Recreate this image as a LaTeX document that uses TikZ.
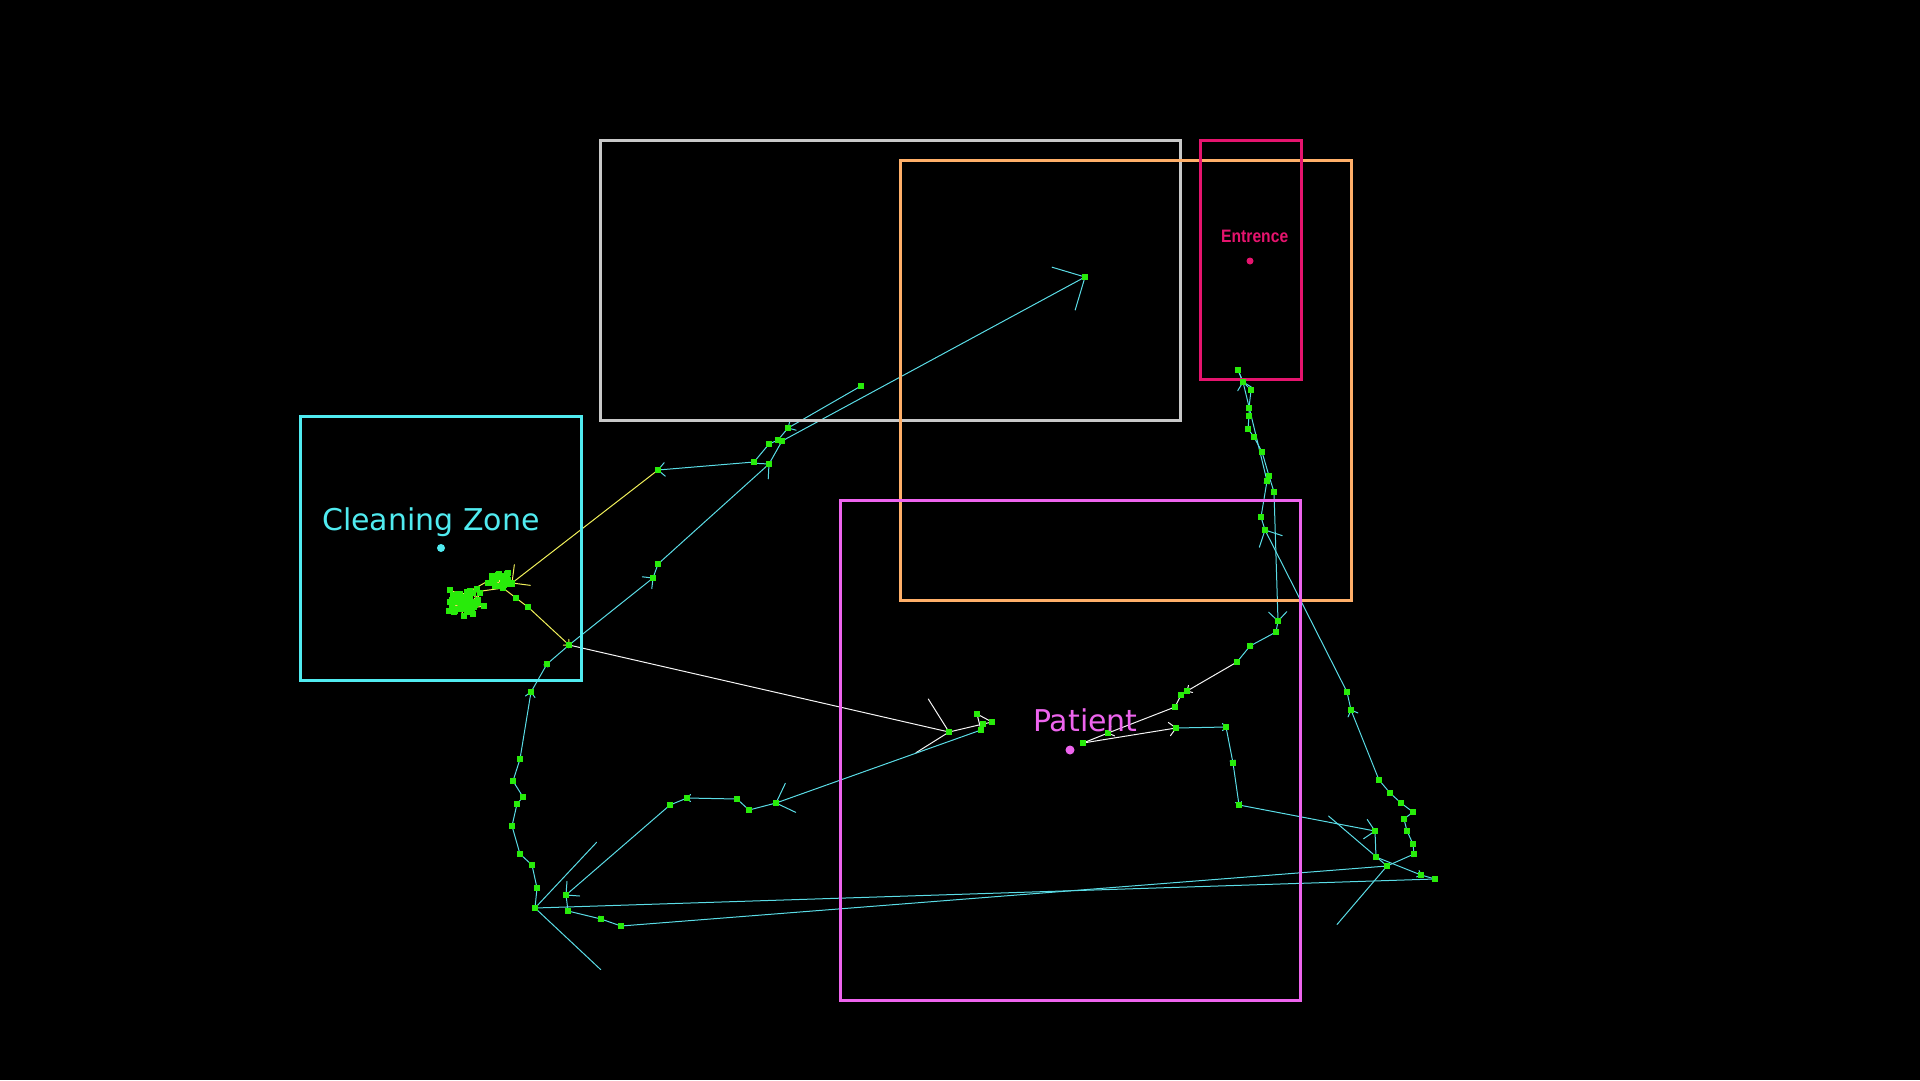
\documentclass[tikz,border=0pt]{standalone}
\usepackage{fontspec}
\newfontfamily\dvs{DejaVu Sans}
\newfontfamily\lsb{Liberation Sans}
\usetikzlibrary{calc}
\definecolor{czone}{RGB}{80,235,240}
\definecolor{cgray}{RGB}{200,200,200}
\definecolor{corange}{RGB}{255,175,105}
\definecolor{cent}{RGB}{230,20,110}
\definecolor{cpat}{RGB}{238,100,238}
\definecolor{tcyan}{RGB}{90,220,230}
\definecolor{tgreen}{RGB}{40,235,10}
\definecolor{tyel}{RGB}{240,240,90}
\definecolor{twhite}{RGB}{245,245,245}
\tikzset{
  zonebox/.style={line width=3pt},
  trk/.style={line width=1pt, line cap=round},
  mark sq/.style={fill=tgreen},
}
% OpenCV-like arrowed segment: tip length 0.1 of segment, barbs at 45 degrees
\newcommand{\aseg}[3]{\draw[trk,#1] (#2) -- (#3) ($(#3)!0.1!45:(#2)$) -- (#3) -- ($(#3)!0.1!-45:(#2)$);}
\newcommand{\trail}[2]{%
  \foreach \x/\y [remember=\x as \px (initially 0), remember=\y as \py (initially 0), count=\i] in #2 {%
    \ifnum\i>1 \aseg{#1}{\px,\py}{\x,\y}\fi
  }}
\newcommand{\squares}[1]{%
  \foreach \x/\y in #1 {\fill[mark sq] (\x-3,\y-3) rectangle (\x+3,\y+3);}}
% trajectory lists (pixel coordinates)
\def\cA{1238/370,1243/382,1251/390,1249/408,1249/416,1248/429,1254/437,1262/452,1269/476,1274/492,1278/621,1276/632,1250/646,1237/662}
\def\wA{1237/662,1187/691,1181/695,1175/707,1108/733,1083/743,1176/728}
\def\cB{1176/728,1226/727,1233/763,1239/805,1375/831,1376/857,1421/875,1435/879,535/908,537/888,532/865,520/854,512/826,517/804,523/797,513/781,520/759,531/692,547/664,569/645,653/578,658/564,769/464,782/441,1085/277}
\def\cC{861/386,788/428,778/440,769/444,754/462,658/470}
\def\yA{658/470,512/583}
\def\yB{503/588,516/598,528/607,569/645}
\def\wB{569/645,949/732,983/724,992/722,977/714,981/730}
\def\cD{981/730,776/803,749/810,737/799,687/798,670/805,566/895,568/911,601/919,621/926,1387/866,1414/854,1413/844,1407/831,1404/819,1413/812,1401/803,1390/793,1379/780,1351/710,1347/692,1265/530,1261/517,1267/481,1243/382,1238/370}
\begin{document}
\begin{tikzpicture}[x=1pt,y=-1pt]
\useasboundingbox (0,0) rectangle (1920,1080);
\fill[black] (0,0) rectangle (1920,1080);
% trajectory segments
\trail{tcyan}{\cA}
\trail{twhite}{\wA}
\trail{tcyan}{\cB}
\trail{tcyan}{\cC}
\trail{tyel}{\yA}
\trail{tyel}{\yB}
\trail{twhite}{\wB}
\trail{tcyan}{\cD}
% hand-washing cluster in the cleaning zone: lines first, markers on top
\pgfmathsetseed{11}
\xdef\qx{512}\xdef\qy{583}
\xdef\clist{512/583}
\foreach \i in {1,...,24}{
  \pgfmathsetmacro\rx{500+8*(rand+rand)}
  \pgfmathsetmacro\ry{577+7*(rand+rand)}
  \draw[trk,tyel] (\qx,\qy) -- (\rx,\ry);
  \xdef\clist{\clist,\rx/\ry}
  \xdef\qx{\rx}\xdef\qy{\ry}
}
\foreach \i in {1,...,60}{
  \pgfmathsetmacro\rx{466+10*(rand+rand)}
  \pgfmathsetmacro\ry{602+8*(rand+rand)}
  \draw[trk,tyel] (\qx,\qy) -- (\rx,\ry);
  \xdef\clist{\clist,\rx/\ry}
  \xdef\qx{\rx}\xdef\qy{\ry}
}
\draw[trk,tyel] (\qx,\qy) -- (503,588);
\squares{\clist}
% zones
\draw[zonebox,cgray] (600,140) rectangle (1180,420);
\draw[zonebox,corange] (900,160) rectangle (1351,600);
\draw[zonebox,cent] (1200,140) rectangle (1301,379);
\draw[zonebox,cpat] (840,500) rectangle (1300,1000);
\draw[zonebox,czone] (300,416) rectangle (581,680);
% markers
\squares{\cA}\squares{\wA}\squares{\cB}\squares{\cC}\squares{\yA}\squares{\yB}\squares{\wB}\squares{\cD}
% labels and zone centres
\node[anchor=base west, inner sep=0, text=czone, font=\dvs\fontsize{30}{30}\selectfont] (lclean) at (322,530) {Cleaning Zone};
\fill[czone] (441,548) circle (4);
\node[anchor=base west, inner sep=0, text=cpat, font=\dvs\fontsize{30}{30}\selectfont] (lpat) at (1033,731) {Patient};
\fill[cpat] (1070,750) circle (4.5);
\node[anchor=base west, inner sep=0, text=cent, font=\lsb\bfseries\fontsize{18}{18}\selectfont] (lent) at (1221,242) {\scalebox{0.87}[1]{Entrence}};
\fill[cent] (1250,261) circle (3.5);
\end{tikzpicture}
\end{document}
